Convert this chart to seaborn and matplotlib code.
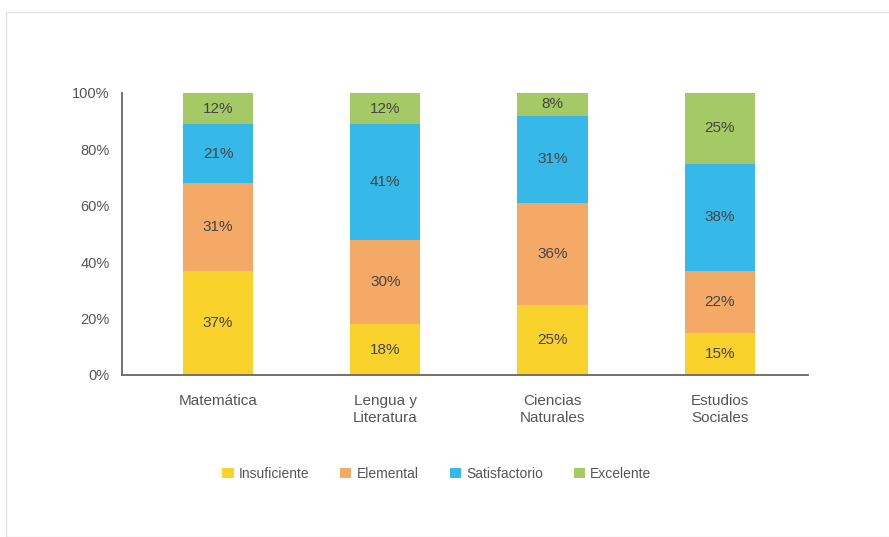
import matplotlib
matplotlib.use("Agg")
import matplotlib.pyplot as plt
import seaborn as sns
import numpy as np
from matplotlib.patches import Rectangle

categories = ["Matemática", "Lengua y\nLiteratura", "Ciencias\nNaturales", "Estudios\nSociales"]
series_names = ["Insuficiente", "Elemental", "Satisfactorio", "Excelente"]
insuficiente = [37, 18, 25, 15]
elemental = [31, 30, 36, 22]
satisfactorio = [21, 41, 31, 38]
excelente = [12, 12, 8, 25]
colors = ["#F9D22B", "#F4AA66", "#36B8E8", "#A4C965"]

sns.set_style("white")
plt.rcParams['font.family'] = ['Liberation Sans', 'DejaVu Sans']

fig = plt.figure(figsize=(8.89, 5.37), dpi=100)
ax = fig.add_axes([122/889, 1-375/537, (808-122)/889, (375-93)/537])

series = [insuficiente, elemental, satisfactorio, excelente]
bottom = np.zeros(len(categories))
text_col = "#454545"
for name, vals, col in zip(series_names, series, colors):
    vals = np.array(vals, dtype=float)
    sns.barplot(x=categories, y=vals, bottom=bottom, color=col, width=0.42,
                ax=ax, label=name, linewidth=0, saturation=1, legend=False)
    for i, v in enumerate(vals):
        top = min(bottom[i] + v, 100)
        mid = (bottom[i] + top) / 2
        ax.text(i, mid, f"{int(v)}%", ha="center", va="center", fontsize=11, color=text_col)
    bottom += vals

handles, labels = ax.get_legend_handles_labels()
if ax.get_legend() is not None:
    ax.get_legend().remove()

xmin, xmax = -0.574, 3.527
ax.set_xlim(xmin, xmax)
ax.set_ylim(0, 100)
ax.set_yticks([0, 20, 40, 60, 80, 100])
ax.set_yticklabels([f"{t}%" for t in [0, 20, 40, 60, 80, 100]], fontsize=10.5, color="#555555")
ax.set_xticks(range(4))
ax.set_xticklabels(categories, fontsize=11, color="#555555")
ax.set_xticks([0.5, 1.5, 2.5, xmax - 0.002], minor=True)
ax.tick_params(axis="x", which="major", length=0, pad=14)
ax.tick_params(axis="x", which="minor", length=5, width=1.2, color="#666666", direction="out")
ax.tick_params(axis="y", length=5, width=1.2, color="#666666", direction="out", pad=4)
for s in ["top", "right"]:
    ax.spines[s].set_visible(False)
for s in ["left", "bottom"]:
    ax.spines[s].set_color("#666666")
    ax.spines[s].set_linewidth(1.3)
ax.set_ylabel("")
ax.set_xlabel("")

leg = fig.legend(handles, labels, loc="center", bbox_to_anchor=(437/889, 1-474/537), ncol=4,
                 frameon=False, fontsize=10, handlelength=0.8, handleheight=0.8,
                 handletextpad=0.4, columnspacing=2.2)
for t in leg.get_texts():
    t.set_color("#555555")

fig.patches.append(Rectangle((6/889, 0), 1, 1-12/537, transform=fig.transFigure,
                             fill=False, edgecolor="#e2e2e2", linewidth=1))

fig.savefig("out.png", dpi=100, facecolor="white")
